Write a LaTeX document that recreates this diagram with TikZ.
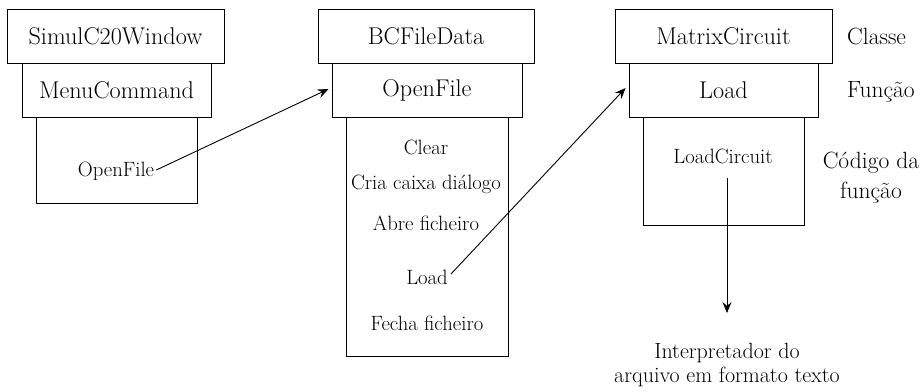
\documentclass[tikz,border=0pt]{standalone}
\usetikzlibrary{arrows.meta}
\begin{document}
\begin{tikzpicture}[x=1pt,y=-1pt,
  box/.style={draw,line width=0.9pt,inner sep=0pt,anchor=center},
  cls/.style={box,minimum height=54pt,font=\fontsize{24.2}{28}\selectfont},
  fun/.style={box,minimum height=54pt,font=\fontsize{24.2}{28}\selectfont},
  body/.style={box},
  small/.style={inner sep=0pt,font=\fontsize{20.7}{24}\selectfont},
  lbl/.style={inner sep=0pt,font=\fontsize{23.5}{30}\selectfont},
  arr/.style={line width=0.9pt,-{Stealth[length=11pt,width=9pt,inset=4pt]}}]
\useasboundingbox (0,0) rectangle (921,391);

% first column
\node[body,minimum width=161pt,minimum height=86pt] (b1) at (116.5,160) {};
\node[fun,minimum width=189pt,fill=white] (f1) at (116.5,90) {MenuCommand};
\node[cls,minimum width=217pt,fill=white] (c1) at (115.5,36) {SimulC20Window};
\node[small] (t1) at (116,171) {OpenFile};

% second column
\node[body,minimum width=162pt,minimum height=239pt] (b2) at (427,236.5) {};
\node[fun,minimum width=190pt,fill=white] (f2) at (427,90) {OpenFile};
\node[cls,minimum width=216pt,fill=white] (c2) at (426,36) {BCFileData};
\node[small] (s1) at (426,147) {Clear};
\node[small] (s2) at (426,184) {Cria caixa diálogo};
\node[small] (s3) at (426,223) {Abre ficheiro};
\node[small] (s4) at (427,277) {Load};
\node[small] (s5) at (427,323) {Fecha ficheiro};

% third column
\node[body,minimum width=161pt,minimum height=108pt] (b3) at (723.5,171) {};
\node[fun,minimum width=189pt,fill=white] (f3) at (723.5,90) {Load};
\node[cls,minimum width=217pt,fill=white] (c3) at (723.5,36) {MatrixCircuit};
\node[small] (lc) at (723,156) {LoadCircuit};

% legend
\node[lbl,anchor=west] (lclass) at (847,36) {Classe};
\node[lbl,anchor=west] (lfun) at (847,92) {Função};
\node[lbl,align=center] (lcode) at (871,178) {Código da\\função};

% parser
\node[lbl,align=center,anchor=north,font=\fontsize{22}{24}\selectfont] (interp) at (727,343)
  {Interpretador do\\arquivo em formato texto};

% calls
\draw[arr] ([xshift=2pt,yshift=1pt]t1.east) -- ([xshift=-3pt,yshift=1pt]f2.west);
\draw[arr] ([xshift=3pt,yshift=3pt]s4.east) -- ([xshift=-3pt,yshift=2pt]f3.west);
\draw[arr] ([xshift=4pt,yshift=-14pt]lc.south) -- ([yshift=30pt]interp.north);
\end{tikzpicture}
\end{document}
